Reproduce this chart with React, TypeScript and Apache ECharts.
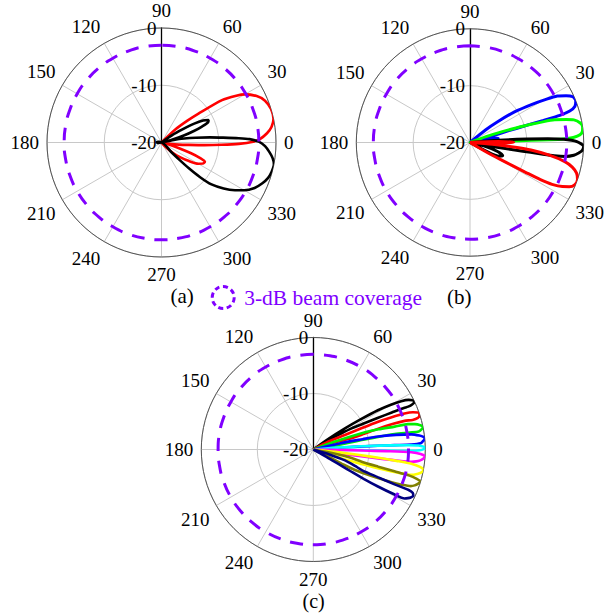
import React, { useEffect, useRef } from "react";
import * as echarts from "echarts";

// ---- data: [angle (deg), level (dB)] ----
const angleTicks = [-270, -240, -210, -180, -150, -120, -90, -60, -30, 0, 30, 60, 90];
const radiusTicks = [-20, -10, 0];

const coverageLevel = -3;
const coverageAngles = [
  -270, -260, -250, -240, -230, -220, -210, -200, -190, -180, -170, -160, -150, -140, -130, -120, -110, -100, -90,
  -80, -70, -60, -50, -40, -30, -20, -10, 0, 10, 20, 30, 40, 50, 60, 70, 80, 90,
];

// (a)
const redA: [number, number][] = [
  [48, -20], [43, -16.5], [40, -14], [38, -11.8], [35, -7.1], [32, -4.6], [30, -3.2], [26, -1.5], [22, -0.5],
  [17, 0], [12, 0], [8, -0.6], [5, -1.5], [2, -2.8], [0.5, -4], [-1, -6.5], [-2.2, -9.5], [-3.5, -12.5],
  [-5, -15.2], [-7, -17], [-9, -18.3], [-12, -20], [-15, -18.8], [-18, -17], [-20, -14.5], [-22, -12.7],
  [-24, -11.7], [-27, -11.9], [-30, -12.6], [-34, -14.2], [-38, -15.8], [-42, -17.2], [-46, -18.8], [-50, -20],
];
const blackA: [number, number][] = [
  [40, -20], [35, -17.8], [32, -15.6], [30, -13.4], [28, -11.8], [25.5, -10.9], [23.5, -11.1], [21.5, -12.4],
  [19.5, -14], [17.5, -15.8], [15.5, -18], [14, -19.5], [12, -17.8], [10, -16], [8, -14], [6, -11.5],
  [4.5, -9.2], [3.2, -6.5], [2.2, -4.6], [0.5, -3], [-2, -1.9], [-5, -1.1], [-8, -0.4], [-11, 0], [-15, -0.1],
  [-18.5, -0.4], [-22, -1], [-26, -1.9], [-30, -3.3], [-33, -4.7], [-36.5, -6.5], [-40, -8.6], [-42, -11],
  [-43.3, -13.5], [-44, -15.5], [-44.5, -17.5], [-45, -20], [-160, -20], [-175, -19.3], [-185, -19.2],
  [-195, -19.6], [-205, -20],
];

// (b)
const blueB: [number, number][] = [
  [42, -20], [39, -16.5], [37, -14], [34.5, -10.5], [31.7, -7.3], [29.5, -4.5], [28, -2.6], [26, -1.2],
  [24, -0.2], [21.5, 0], [19, -0.5], [17.5, -1.6], [16.8, -3.5], [16.8, -6.5], [16.9, -10], [16.9, -13],
  [16.5, -16], [15.5, -18], [14, -20], [12, -17], [10, -15.5], [8, -15], [5, -16], [2, -18], [0, -20],
];
const greenB: [number, number][] = [
  [22, -20], [20, -17], [18.5, -14], [17.5, -11.5], [16.7, -9], [15.8, -6.5], [15, -4.6], [13.5, -2.6],
  [12.3, -1.3], [10, -0.3], [8, 0], [6, -0.1], [4, -0.6], [2.8, -1.8], [2.2, -3.6], [2, -6], [2, -9.2],
  [2, -13], [1.8, -17], [1.5, -20], [-2, -20], [-4, -15.5], [-6, -14], [-8, -15.5], [-10, -20],
];
const blackB: [number, number][] = [
  [6, -20], [4.5, -15], [3.5, -10], [2.8, -6.3], [2, -3.5], [0.5, -1.2], [-2, 0], [-4, -0.2], [-5.5, -0.8],
  [-7, -1.6], [-8.3, -3], [-9, -5], [-9.2, -7], [-9.2, -9.2], [-9.5, -12], [-10, -16], [-11, -20],
  [-14, -17.5], [-18, -15], [-22, -13.8], [-25, -14.3], [-28, -17], [-31, -20],
];
const redB: [number, number][] = [
  [5, -20], [2, -15], [0.4, -12.3], [-1.5, -15], [-3, -20], [-4.5, -16], [-6, -12], [-7, -9.2], [-9, -6],
  [-11.4, -3], [-13.5, -1.5], [-16, -0.5], [-19, 0], [-22, -0.15], [-24, -0.9], [-25.5, -2], [-27, -3.8],
  [-27.8, -6], [-28.2, -9], [-28.6, -11.5], [-29.3, -14], [-30.2, -16.5], [-31, -20],
];

// (c)
const blackC: [number, number][] = [
  [36.5, -20], [35.5, -17], [33.7, -13.2], [32.5, -10], [31.3, -6.5], [30, -4], [28.8, -2.1], [27.5, -0.8],
  [26.3, -0.2], [25.3, 0], [24.5, -0.6], [24.3, -1.4], [24.6, -2.2], [25.2, -4.5], [26.1, -7.1], [27.4, -10],
  [28.9, -12.2], [30, -14.5], [31, -16.1], [32.5, -18.5], [33.5, -20],
];
const redC: [number, number][] = [
  [31, -20], [28, -17], [24.6, -13.8], [23.8, -10.5], [23.2, -7.4], [22.4, -5], [21.5, -2.5], [20.5, -1],
  [19.2, 0], [17.8, -0.1], [16.8, -0.5], [16.6, -1.5], [17.4, -2.9], [17.8, -5], [17.8, -7.8], [17.1, -10.5],
  [16.3, -12.9], [17.5, -15], [20, -18], [25, -20],
];
const greenC: [number, number][] = [
  [22, -20], [20, -16], [18.6, -10.9], [17.2, -7.8], [15.7, -4.9], [15, -2.5], [14, -1.3], [12.8, -0.4],
  [11.7, 0], [10.6, -0.3], [9.7, -0.9], [10, -2.5], [10.8, -5.2], [11, -8], [11, -11.2], [10.8, -13.5],
  [10.4, -15.5], [11, -18], [13, -20],
];
const blueC: [number, number][] = [
  [15, -20], [13, -15], [11.8, -11], [11.3, -8.2], [10, -5], [8.8, -2.3], [7.5, -0.9], [6.5, -0.2], [5.7, 0],
  [4.5, -0.3], [3.3, -0.8], [2.9, -2.5], [3.1, -5.5], [3.3, -8.5], [3.5, -11.4], [3.8, -14], [4.5, -17], [6, -20],
];
const cyanC: [number, number][] = [
  [6.5, -20], [4.5, -15], [3.6, -10], [3, -6], [2.6, -3], [2.2, -1.2], [1.5, -0.3], [0.9, 0], [0.2, -0.3],
  [-0.4, -1], [-0.8, -2.5], [-0.9, -5], [-0.8, -9], [-0.7, -12], [-0.9, -15], [-2, -20],
];
const magentaC: [number, number][] = [
  [0, -20], [-1, -15], [-1.2, -11], [-1.3, -7], [-1.6, -2.5], [-2.4, -0.8], [-3.7, 0], [-4.8, -0.3],
  [-5.8, -0.8], [-6.6, -1.5], [-7.1, -2.4], [-7.5, -5], [-7.8, -8.3], [-8, -11], [-8.5, -14], [-9, -17], [-8, -20],
];
const yellowC: [number, number][] = [
  [-5, -20], [-6, -16], [-6.8, -12], [-7.3, -8], [-7.8, -5], [-8.3, -2.3], [-9.3, -0.7], [-10.6, 0],
  [-11.8, -0.2], [-13, -0.8], [-14.6, -2], [-15.4, -4.5], [-16.2, -8], [-16.8, -11], [-17.5, -14], [-16, -17], [-12, -20],
];
const oliveC: [number, number][] = [
  [-9, -20], [-11, -16], [-12.5, -13], [-14.2, -11.1], [-14.8, -8], [-15, -5], [-15.2, -2.2], [-15.8, -0.8],
  [-16.7, 0], [-18, -0.3], [-19.5, -0.8], [-20.6, -1.4], [-21.7, -3], [-22.8, -5], [-23.9, -7.4], [-25, -9.5],
  [-26.2, -11.7], [-26.5, -14], [-25, -17], [-20, -20],
];
const navyC: [number, number][] = [
  [-14, -20], [-17, -17], [-19, -14], [-21.5, -12], [-23, -10.6], [-23.2, -7.5], [-23.2, -4.2], [-23, -1.5],
  [-23.6, -0.6], [-25, -0.3], [-26.2, -0.6], [-27.2, -1], [-28.2, -1.5], [-29, -3.5], [-29.8, -6.7], [-30.2, -9.5],
  [-30.2, -12.1], [-30, -14], [-29.7, -16.2], [-28.5, -18.5], [-26, -20],
];

const FONT = "'Liberation Serif', 'Times New Roman', serif";
const PURPLE = "#8000ff";
const COVERAGE_NAME = "3-dB beam coverage";

function toPolar(d: [number, number][]) {
  return d.map(([a, r]) => [r, a]);
}

function lobe(name: string, data: [number, number][], color: string, polarIndex: number, width = 2.6) {
  return {
    type: "line",
    name,
    coordinateSystem: "polar",
    polarIndex,
    data: toPolar(data),
    symbol: "none",
    smooth: 0.25,
    lineStyle: { color, width },
    itemStyle: { color },
    z: 3,
  };
}

function coverage(polarIndex: number) {
  return {
    type: "line",
    name: COVERAGE_NAME,
    coordinateSystem: "polar",
    polarIndex,
    data: coverageAngles.map((a) => [coverageLevel, a]),
    symbol: "none",
    smooth: true,
    lineStyle: { color: PURPLE, width: 3, type: [13, 10] },
    itemStyle: { color: PURPLE },
    z: 4,
  };
}

function angleAxis(polarIndex: number) {
  return {
    polarIndex,
    type: "value",
    min: angleTicks[0],
    max: angleTicks[angleTicks.length - 1],
    interval: 30,
    startAngle: 90,
    clockwise: false,
    axisLine: { show: true, lineStyle: { color: "#555", width: 1 } },
    axisTick: { show: false },
    axisLabel: {
      show: true,
      margin: 8,
      fontSize: 19,
      color: "#000",
      fontFamily: FONT,
      formatter: (v: number) => String(((v % 360) + 360) % 360),
    },
    splitLine: { show: true, lineStyle: { color: "#c8c8c8", width: 1 } },
  };
}

function radiusAxis(polarIndex: number) {
  return {
    polarIndex,
    type: "value",
    min: radiusTicks[0],
    max: radiusTicks[radiusTicks.length - 1],
    interval: 10,
    axisLine: { show: true, lineStyle: { color: "#000", width: 1.3 } },
    axisTick: { show: false },
    axisLabel: {
      show: true,
      showMinLabel: true,
      showMaxLabel: true,
      margin: 5,
      fontSize: 19,
      color: "#000",
      fontFamily: FONT,
    },
    splitLine: { show: true, lineStyle: { color: "#c8c8c8", width: 1 } },
  };
}

export default function App() {
  const ref = useRef<HTMLDivElement>(null);
  useEffect(() => {
    if (!ref.current) return;
    const chart = echarts.init(ref.current, null, { renderer: "svg" });
    chart.setOption({
      animation: false,
      backgroundColor: "#fff",
      textStyle: { fontFamily: FONT },
      polar: [
        { center: [161.5, 142.5], radius: 114.5 },
        { center: [470, 142.5], radius: 113.7 },
        { center: [313.3, 449.5], radius: 112 },
      ],
      angleAxis: [angleAxis(0), angleAxis(1), angleAxis(2)],
      radiusAxis: [radiusAxis(0), radiusAxis(1), radiusAxis(2)],
      legend: {
        data: [
          {
            name: COVERAGE_NAME,
            icon: "circle",
            itemStyle: { color: "rgba(0,0,0,0)", borderColor: PURPLE, borderWidth: 3, borderType: [5, 3.5] },
          },
        ],
        left: 210.7,
        top: 285,
        itemWidth: 32,
        itemHeight: 22,
        padding: 0,
        selectedMode: false,
        textStyle: { color: PURPLE, fontSize: 21.5, fontFamily: FONT },
      },
      graphic: [
        { type: "text", left: 170.5, top: 285, style: { text: "(a)", fontSize: 21, fontFamily: FONT, fill: "#000" } },
        { type: "text", left: 447, top: 286, style: { text: "(b)", fontSize: 21, fontFamily: FONT, fill: "#000" } },
        { type: "text", left: 302.5, top: 591, style: { text: "(c)", fontSize: 20, fontFamily: FONT, fill: "#000" } },
      ],
      series: [
        lobe("redA", redA, "#ff0000", 0),
        lobe("blackA", blackA, "#000000", 0),
        coverage(0),
        lobe("blueB", blueB, "#0000ff", 1, 3),
        lobe("greenB", greenB, "#00ff00", 1, 3),
        lobe("blackB", blackB, "#000000", 1, 3),
        lobe("redB", redB, "#ff0000", 1, 3),
        coverage(1),
        lobe("blackC", blackC, "#000000", 2),
        lobe("redC", redC, "#ff0000", 2),
        lobe("greenC", greenC, "#00ee00", 2),
        lobe("blueC", blueC, "#0000ff", 2),
        lobe("cyanC", cyanC, "#00ffff", 2),
        lobe("magentaC", magentaC, "#ff00ff", 2),
        lobe("yellowC", yellowC, "#ffff00", 2),
        lobe("oliveC", oliveC, "#808000", 2),
        lobe("navyC", navyC, "#000080", 2),
        coverage(2),
      ],
    });
    return () => chart.dispose();
  }, []);
  return (
    <div
      ref={ref}
      style={{ position: "absolute", left: 0, top: 0, width: 610, height: 614, background: "#fff" }}
    />
  );
}
